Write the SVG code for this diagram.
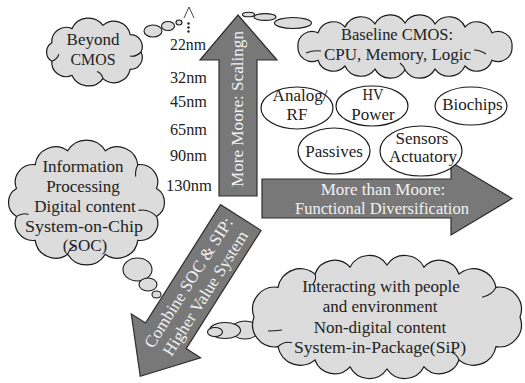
<svg xmlns="http://www.w3.org/2000/svg" width="525" height="383" viewBox="0 0 525 383">
<style>
.cloud{fill:#dcdcdc;stroke:#1a1a1a;stroke-width:1.2}
.inner{fill:none;stroke:#1a1a1a;stroke-width:1.1}
.bub{fill:#dcdcdc;stroke:#1a1a1a;stroke-width:1.1}
.oval{fill:#ffffff;stroke:#1a1a1a;stroke-width:1.2}
.arrow{fill:#787878;stroke:#2e2e2e;stroke-width:1.2}
.t{font-family:"Liberation Serif","Times New Roman",serif;font-size:17px;fill:#222;text-anchor:middle}
.w{fill:#f2f2f2}
.s{text-anchor:start}
</style>
<rect width="525" height="383" fill="#ffffff"/>

<g id="arrow-more-moore">
<polygon class="arrow" points="219,196 219,60 200,60 238,15 277,60 257,60 257,196"/>
<text class="t w" transform="translate(243,109) rotate(-90)" textLength="156" lengthAdjust="spacingAndGlyphs">More Moore: Scalingn</text>
</g>
<g id="arrow-more-than-moore">
<polygon class="arrow" points="262,179 451,179 451,162 512,198.5 451,235 451,218 262,218"/>
<text class="t w" x="383" y="195">More than Moore:</text>
<text class="t w" x="382" y="214" textLength="174" lengthAdjust="spacingAndGlyphs">Functional Diversification</text>
</g>
<g id="arrow-combine">
<polygon class="arrow" transform="translate(240.8,217.5) rotate(122.34)" points="0,-24 140,-24 140,-41 188,0 140,41 140,24 0,24"/>
<g transform="translate(197,288) rotate(-57.66)">
<text class="t w" x="0" y="-4.5">Combine SOC &amp; SIP:</text>
<text class="t w" x="0" y="15.5">Higher Value System</text>
</g>
</g>

<g id="connectors">
<g id="trail-beyond">
<ellipse class="bub" cx="153" cy="31" rx="9" ry="6"/>
<ellipse class="bub" cx="168" cy="26" rx="6.5" ry="4.5"/>
<ellipse class="bub" cx="179" cy="22.5" rx="3" ry="2.5"/>
</g>
<g id="trail-baseline">
<ellipse class="bub" cx="248.5" cy="14.5" rx="6" ry="2.3"/>
<ellipse class="bub" cx="265" cy="17" rx="11" ry="3.4"/>
<ellipse class="bub" cx="293" cy="23" rx="18.5" ry="5.5"/>
</g>
<g id="trail-soc">
<ellipse class="bub" cx="137.5" cy="269.5" rx="14.5" ry="11.5"/>
<ellipse class="bub" cx="148" cy="284.5" rx="9" ry="6.5"/>
<ellipse class="bub" cx="156.5" cy="294.5" rx="4.5" ry="3.5"/>
</g>
<g id="trail-sip">
<ellipse class="bub" cx="245" cy="330" rx="14" ry="9"/>
</g>
</g>

<g id="cloud-beyond">
<path class="cloud" d="M51.8,42.8 A14.4,14.4 0 0 1 72,28.6 A18.1,18.1 0 0 1 103,25.4 A16.6,16.6 0 0 1 130.2,34.6 A12,12 0 0 1 141,52 A12,12 0 0 1 130.2,69.4 A16.6,16.6 0 0 1 103,78.6 A18.1,18.1 0 0 1 72,75.4 A14.4,14.4 0 0 1 51.8,61.2 A10.7,10.7 0 0 1 51.8,42.8 Z"/>
<path class="inner" d="M51.8,61.2 c3,-1 6,-3 7,-7 M141,52 c-3,3 -7,5 -11,4 M103,78.6 c-1,-4 -3,-6 -6,-7"/>
<text class="t" x="93" y="45">Beyond</text>
<text class="t" x="93" y="65" textLength="45" lengthAdjust="spacingAndGlyphs">CMOS</text>
</g>

<g id="cloud-baseline">
<path class="cloud" d="M298,46.5 A14,14 0 0 1 318,32.8 A16,16 0 0 1 345,27 A17.5,17.5 0 0 1 375,23.9 A17.4,17.4 0 0 1 405,23 A17.4,17.4 0 0 1 435,23.9 A17.5,17.5 0 0 1 465,27 A16,16 0 0 1 492,32.8 A14,14 0 0 1 512,46.5 A14,14 0 0 1 492,60.2 A16,16 0 0 1 465,66 A17.5,17.5 0 0 1 435,69.1 A17.4,17.4 0 0 1 405,70 A17.4,17.4 0 0 1 375,69.1 A17.5,17.5 0 0 1 345,66 A16,16 0 0 1 318,60.2 A14,14 0 0 1 298,46.5 Z"/>
<path class="inner" d="M306,53 q7,-3 15,-2 M474,50 q6,0 12,4 M405,70 q-1,-4 -5,-7"/>
<text class="t" x="397" y="40" textLength="112" lengthAdjust="spacingAndGlyphs">Baseline CMOS:</text>
<text class="t" x="397.5" y="60">CPU, Memory, Logic</text>
</g>

<g id="cloud-soc">
<path class="cloud" d="M16.5,188.6 A17.6,17.6 0 0 1 35.2,164.7 A20.5,20.5 0 0 1 67.7,150.8 A21.8,21.8 0 0 1 105.3,150.8 A20.5,20.5 0 0 1 137.8,164.7 A17.6,17.6 0 0 1 156.5,188.6 A16.1,16.1 0 0 1 156.5,216.4 A17.6,17.6 0 0 1 137.8,240.3 A20.5,20.5 0 0 1 105.3,254.2 A21.8,21.8 0 0 1 67.7,254.2 A20.5,20.5 0 0 1 35.2,240.3 A17.6,17.6 0 0 1 16.5,216.4 A16.1,16.1 0 0 1 16.5,188.6 Z"/>
<path class="inner" d="M156.5,216.4 q-8,-8 -18,-6 M16.5,216.4 q6,-4 12,-2 M67.7,254.2 q2,-6 8,-9 M137.8,164.7 q-3,6 -2,12"/>
<text class="t" x="83" y="172">Information</text>
<text class="t" x="83" y="192">Processing</text>
<text class="t" x="85" y="212">Digital content</text>
<text class="t" x="84" y="232" textLength="118" lengthAdjust="spacingAndGlyphs">System-on-Chip</text>
<text class="t" x="85" y="251">(SOC)</text>
</g>

<g id="cloud-sip">
<path class="cloud" d="M254,317 A22.2,22.2 0 0 1 278,287.3 A22.8,22.8 0 0 1 315,274 A20.7,20.7 0 0 1 350,267.2 A21.5,21.5 0 0 1 387,265 A21.5,21.5 0 0 1 424,267.2 A20.7,20.7 0 0 1 459,274 A22.8,22.8 0 0 1 496,287.3 A22.2,22.2 0 0 1 520,317 A22.2,22.2 0 0 1 496,346.7 A22.8,22.8 0 0 1 459,360 A20.7,20.7 0 0 1 424,366.8 A21.5,21.5 0 0 1 387,369 A21.5,21.5 0 0 1 350,366.8 A20.7,20.7 0 0 1 315,360 A22.8,22.8 0 0 1 278,346.7 A22.2,22.2 0 0 1 254,317 Z"/>
<path class="inner" d="M278,346.7 q6,-6 14,-4 M496,287.3 q-4,8 -14,10 M459,360 q-2,-6 -8,-8 M268,331 q7,0 14,-1 M315,274 q2,5 -2,10"/>
<text class="t" x="381" y="292">Interacting with people</text>
<text class="t" x="380" y="312">and environment</text>
<text class="t" x="380" y="333">Non-digital content</text>
<text class="t" x="380" y="353" textLength="172" lengthAdjust="spacingAndGlyphs">System-in-Package(SiP)</text>
</g>

<g id="trail-sip-front">
<ellipse class="bub" cx="225" cy="330.5" rx="15.5" ry="8"/>
<ellipse class="bub" cx="215" cy="332" rx="7.5" ry="4.5"/>
</g>

<g id="oval-analog">
<ellipse class="oval" cx="297" cy="108" rx="36" ry="21"/>
<text class="t" x="300" y="101">Analog/</text>
<text class="t" x="297" y="120">RF</text>
</g>
<g id="oval-hv">
<ellipse class="oval" cx="372" cy="106" rx="36" ry="20"/>
<text class="t" x="373" y="100" textLength="21" lengthAdjust="spacingAndGlyphs">HV</text>
<text class="t" x="373" y="120">Power</text>
</g>
<g id="oval-biochips">
<ellipse class="oval" cx="471" cy="106" rx="36" ry="19"/>
<text class="t" x="472.5" y="110">Biochips</text>
</g>
<g id="oval-passives">
<ellipse class="oval" cx="334" cy="151" rx="36" ry="23"/>
<text class="t" x="334" y="157">Passives</text>
</g>
<g id="oval-sensors">
<ellipse class="oval" cx="421" cy="151" rx="41" ry="25"/>
<text class="t" x="422" y="143.5">Sensors</text>
<text class="t" x="423" y="162">Actuatory</text>
</g>

<g id="nodes-nm">
<text class="t s" x="170" y="50" textLength="36" lengthAdjust="spacingAndGlyphs">22nm</text>
<text class="t s" x="170" y="82.5" textLength="37" lengthAdjust="spacingAndGlyphs">32nm</text>
<text class="t s" x="170" y="107" textLength="37" lengthAdjust="spacingAndGlyphs">45nm</text>
<text class="t s" x="170" y="134.5" textLength="37" lengthAdjust="spacingAndGlyphs">65nm</text>
<text class="t s" x="170" y="161" textLength="37" lengthAdjust="spacingAndGlyphs">90nm</text>
<text class="t s" x="166" y="190.5" textLength="46" lengthAdjust="spacingAndGlyphs">130nm</text>
</g>

<g id="scaling-mark">
<polyline points="184,18 189,7 194,18" fill="none" stroke="#333" stroke-width="0.9"/>
<circle cx="188.5" cy="23.5" r="1.2" fill="#222"/>
<circle cx="188.5" cy="27.5" r="1.2" fill="#222"/>
<circle cx="188.5" cy="31.5" r="1.2" fill="#222"/>
</g>
</svg>
